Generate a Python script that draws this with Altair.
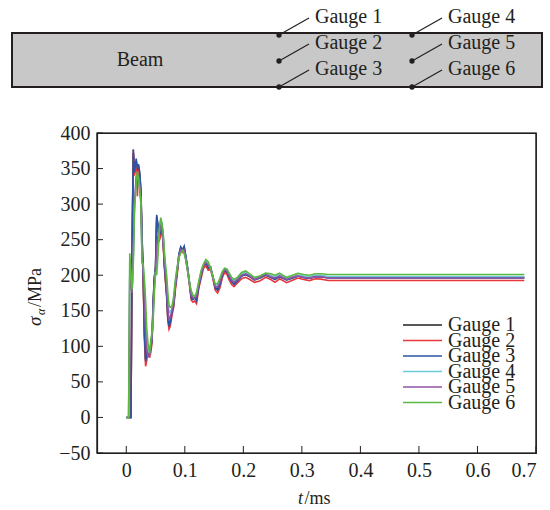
import altair as alt
import pandas as pd

# ---------------- data ----------------
T = [0, 0.004, 0.006, 0.008, 0.010, 0.012, 0.014, 0.017, 0.019, 0.021,
     0.023, 0.025, 0.027, 0.029, 0.031, 0.033, 0.035, 0.037, 0.040, 0.042,
     0.044, 0.046, 0.048, 0.050, 0.052, 0.054, 0.057, 0.059, 0.061, 0.063,
     0.065, 0.067, 0.069, 0.071, 0.073, 0.075, 0.078, 0.081, 0.084, 0.087,
     0.090, 0.093, 0.096, 0.099, 0.102, 0.105, 0.108, 0.111, 0.114, 0.117,
     0.120, 0.124, 0.128, 0.132, 0.136, 0.140, 0.144, 0.148, 0.152, 0.156,
     0.160, 0.164, 0.168, 0.172, 0.176, 0.180, 0.184, 0.190, 0.197, 0.204,
     0.211, 0.219, 0.228, 0.238, 0.247, 0.254, 0.262, 0.274, 0.284, 0.293,
     0.303, 0.313, 0.323, 0.333, 0.345, 0.360, 0.680]

G1 = [0, 0, 0, 0, 230, 372, 350, 360, 348, 352,
      340, 318, 250, 195, 118, 82, 90, 98, 92, 100,
      112, 165, 197, 212, 282, 270, 256, 260, 270, 247,
      215, 195, 172, 142, 130, 135, 148, 160, 186, 206,
      229, 238, 235, 239, 224, 208, 189, 169, 167, 169,
      166, 186, 201, 213, 216, 210, 211, 198, 183, 180,
      187, 200, 207, 204, 197, 191, 188, 193, 199, 201,
      198, 194, 196, 200, 197, 195, 198, 194, 196, 199,
      197, 196, 198, 198, 197, 197, 197]

G2 = [0, 0, 0, 0, 240, 376, 340, 360, 311, 350,
      338, 315, 250, 190, 110, 72, 80, 95, 84, 92,
      105, 155, 192, 205, 278, 262, 250, 255, 268, 245,
      212, 190, 170, 136, 124, 128, 143, 155, 180, 200,
      225, 235, 232, 236, 222, 205, 186, 165, 162, 164,
      160, 182, 196, 210, 213, 207, 208, 195, 179, 175,
      182, 196, 204, 201, 193, 187, 184, 189, 195, 197,
      194, 190, 192, 197, 194, 190, 195, 189.5, 193, 196,
      194, 192.5, 195, 194.5, 192.5, 192.5, 192.5]

G3 = [0, 0, 0, 0, 250, 377, 345, 364, 350, 356,
      345, 320, 255, 200, 120, 79, 88, 100, 90, 98,
      108, 160, 196, 210, 285, 272, 258, 262, 274, 250,
      218, 196, 175, 140, 128, 133, 147, 158, 185, 205,
      230, 240, 236, 241, 226, 210, 190, 168, 166, 168,
      164, 185, 200, 214, 217, 211, 212, 198, 182, 179,
      186, 200, 208, 205, 197, 191, 187, 192, 199, 201,
      198, 193, 196, 201, 197, 194, 198, 193, 196, 199,
      197, 196, 198, 198, 196, 196, 196]

G4 = [0, 0, 220, 195, 178, 222, 295, 335, 340, 336,
      323, 302, 222, 210, 182, 140, 110, 95, 90, 105,
      115, 145, 180, 205, 220, 240, 266, 276, 270, 258,
      230, 210, 192, 165, 148, 148, 153, 166, 191, 209,
      226, 233, 235, 233, 221, 205, 189, 175, 170, 169,
      173, 190, 205, 214, 220, 216, 210, 197, 186, 186,
      193, 203, 209, 207, 201, 195, 192, 195, 202, 204,
      200, 195, 198, 202, 200, 198, 201, 196, 198, 200,
      199, 198, 200, 200, 198, 198, 198]

G5 = [0, 0, 200, 185, 175, 230, 300, 340, 335, 338,
      325, 305, 225, 205, 170, 120, 95, 85, 88, 100,
      112, 150, 185, 205, 240, 255, 262, 270, 268, 255,
      225, 205, 185, 155, 138, 140, 150, 162, 188, 207,
      228, 236, 235, 236, 222, 206, 188, 172, 168, 168,
      170, 188, 203, 213, 218, 214, 210, 197, 184, 183,
      190, 202, 208, 206, 199, 193, 190, 194, 200, 202,
      199, 194, 197, 201, 198, 196, 199, 194, 197, 199,
      197, 196, 198, 198, 196, 196, 196]

G6 = [0, 0, 231, 200, 180, 215, 290, 330, 346, 335,
      321, 300, 218, 215, 195, 165, 125, 105, 91, 110,
      119, 140, 175, 205, 200, 225, 270, 281, 272, 260,
      235, 215, 200, 175, 158, 155, 156, 170, 195, 212,
      225, 231, 235, 230, 220, 205, 190, 178, 172, 170,
      176, 192, 207, 216, 222, 219, 210, 198, 188, 188,
      196, 205, 210, 209, 203, 197, 194, 197, 204, 206,
      202, 197, 199, 203, 202, 200, 203, 197, 200, 202.5,
      201, 200, 202, 202, 201, 201, 201]

GAUGES = ["Gauge 1", "Gauge 2", "Gauge 3", "Gauge 4", "Gauge 5", "Gauge 6"]
SERIES = [G1, G2, G3, G4, G5, G6]
COLORS = ["#231f20", "#e8363a", "#2c54a3", "#6ccbd6", "#9054a6", "#5cb840"]

XTICKS = [0, 0.1, 0.2, 0.3, 0.4, 0.5, 0.6, 0.7]
YTICKS = [-50, 0, 50, 100, 150, 200, 250, 300, 350, 400]
XDOMAIN = [-0.05, 0.7]
YDOMAIN = [-50, 400]

# beam diagram (in diagram units, 1 unit ~ 1 px)
BEAM_LENGTH = 530
BEAM_HEIGHT = 54
GAUGE_POS_X = [267, 267, 267, 400, 400, 400]
GAUGE_POS_Y = [52, 26, 0, 52, 26, 0]
BEAM_LABEL = "Beam"

# ---------------- helpers ----------------
FONT = "Liberation Serif"
INK = "#231f20"
W, H = 439, 320
XPX = (XDOMAIN[1] - XDOMAIN[0]) / W   # data units per pixel
YPX = (YDOMAIN[1] - YDOMAIN[0]) / H


def dia_t(dx):   # diagram unit -> time axis unit
    return XDOMAIN[0] + (dx - 85) * XPX


def dia_v(dy):   # diagram unit -> stress axis unit
    return YDOMAIN[1] + (46 + dy) * YPX


rows = []
for g, vals in zip(GAUGES, SERIES):
    for t, v in zip(T, vals):
        rows.append({"t": t, "v": v, "gauge": g})
df = pd.DataFrame(rows)

xscale = alt.Scale(domain=XDOMAIN, nice=False, zero=False)
yscale = alt.Scale(domain=YDOMAIN, nice=False, zero=False)
cscale = alt.Scale(domain=GAUGES, range=COLORS)
xaxis = alt.Axis(values=XTICKS, format=".1~f", title=None, tickSize=0,
                 labelFontSize=20, labelFont=FONT, labelColor=INK,
                 labelPadding=7, domainColor=INK, domainWidth=1.2,
                 labelOverlap=False, grid=False)
yaxis = alt.Axis(values=YTICKS, format="d", title=None, tickSize=0,
                 labelFontSize=20, labelFont=FONT, labelColor=INK,
                 labelPadding=7, domainColor=INK, domainWidth=1.2,
                 labelOverlap=False, grid=False)
X = lambda f: alt.X(f, scale=xscale, axis=xaxis)
Y = lambda f: alt.Y(f, scale=yscale, axis=yaxis)

lines = alt.Chart(df).mark_line(strokeWidth=1.6).encode(
    x=X("t:Q"), y=Y("v:Q"),
    color=alt.Color("gauge:N", scale=cscale, legend=None),
)

# frame box and inward ticks
box_df = pd.DataFrame({"t": [XDOMAIN[0]], "t2": [XDOMAIN[1]],
                       "v": [YDOMAIN[0]], "v2": [YDOMAIN[1]]})
box = alt.Chart(box_df).mark_rect(fill=None, stroke=INK, strokeWidth=1.2).encode(
    x=X("t:Q"), x2="t2", y=Y("v:Q"), y2="v2")
xt_df = pd.DataFrame({"t": XTICKS, "v": float(YDOMAIN[0]),
                      "v2": YDOMAIN[0] + 7 * YPX})
xticks = alt.Chart(xt_df).mark_rule(color=INK, strokeWidth=1).encode(
    x=X("t:Q"), y=Y("v:Q"), y2="v2")
yt_df = pd.DataFrame({"v": YTICKS, "t": float(XDOMAIN[0]),
                      "t2": XDOMAIN[0] + 6 * XPX})
yticks = alt.Chart(yt_df).mark_rule(color=INK, strokeWidth=1).encode(
    y=Y("v:Q"), x=X("t:Q"), x2="t2")

one = pd.DataFrame({"k": [0]})


def txt(s, x, y, size, italic=False, angle=0):
    kw = dict(text=s, font=FONT, fontSize=size, color=INK, align="left",
              baseline="alphabetic")
    if italic:
        kw["fontStyle"] = "italic"
    if angle:
        kw["angle"] = angle
    return alt.Chart(one).mark_text(**kw).encode(x=alt.value(x), y=alt.value(y))


ytitle = [txt("σ", -56, 193, 19, True, 270),
          txt("α", -52, 182, 12, True, 270),
          txt("/MPa", -56, 174, 18, False, 270)]
xtitle = [txt("t", 201, 371, 18, True), txt("/ms", 207.5, 371, 18)]

# legend (rows 15.5 px apart, first row 192 px below plot top)
leg_df = pd.DataFrame({"gauge": GAUGES})
leg_df["v"] = [YDOMAIN[1] - (192 + 15.5 * i) * YPX for i in range(len(GAUGES))]
leg_df["t"] = XDOMAIN[0] + 306 * XPX
leg_df["t2"] = XDOMAIN[0] + 345 * XPX
leg_df["tt"] = XDOMAIN[0] + 351 * XPX
leg_lines = alt.Chart(leg_df).mark_rule(strokeWidth=1.6).encode(
    x=X("t:Q"), x2="t2", y=Y("v:Q"),
    color=alt.Color("gauge:N", scale=cscale, legend=None))
leg_text = alt.Chart(leg_df).mark_text(font=FONT, fontSize=20, color=INK,
                                       align="left", baseline="middle").encode(
    x=X("tt:Q"), y=Y("v:Q"), text="gauge:N")

# beam diagram
beam = pd.DataFrame({"t": [dia_t(0)], "t2": [dia_t(BEAM_LENGTH)],
                     "v": [dia_v(0)], "v2": [dia_v(BEAM_HEIGHT)],
                     "label": [BEAM_LABEL], "ct": [dia_t(128)], "cv": [dia_v(27)]})
gdf = pd.DataFrame({"name": GAUGES})
gdf["t"] = [dia_t(x) for x in GAUGE_POS_X]
gdf["v"] = [dia_v(y) for y in GAUGE_POS_Y]
gdf["t2"] = [dia_t(x + 30) for x in GAUGE_POS_X]
gdf["v2"] = [dia_v(y + 17) for y in GAUGE_POS_Y]
gdf["tt"] = [dia_t(x + 36) for x in GAUGE_POS_X]
gdf["tv"] = [dia_v(y + 18) for y in GAUGE_POS_Y]

rect = alt.Chart(beam).mark_rect(fill="#c8c8c8", stroke=INK, strokeWidth=2).encode(
    x=X("t:Q"), x2="t2", y=Y("v:Q"), y2="v2")
btxt = alt.Chart(beam).mark_text(font=FONT, fontSize=20, color=INK).encode(
    x=X("ct:Q"), y=Y("cv:Q"), text="label:N")
lead = alt.Chart(gdf).mark_rule(color=INK, strokeWidth=1.2).encode(
    x=X("t:Q"), x2="t2", y=Y("v:Q"), y2="v2")
dots = alt.Chart(gdf).mark_circle(color=INK, opacity=1, size=28).encode(
    x=X("t:Q"), y=Y("v:Q"))
gl = alt.Chart(gdf).mark_text(font=FONT, fontSize=20, color=INK, align="left",
                              baseline="middle").encode(
    x=X("tt:Q"), y=Y("tv:Q"), text="name:N")

chart = alt.layer(
    lines, leg_lines, leg_text, rect, btxt, lead, dots, gl,
    *ytitle, *xtitle, box, xticks, yticks
).properties(
    width=W, height=H,
    autosize=alt.AutoSizeParams(type="none"),
    padding={"left": 97, "top": 133, "right": 14, "bottom": 57},
).configure_view(stroke=INK, strokeWidth=1.2)

chart.save("out.html", embed_options={"renderer": "svg", "actions": False})
